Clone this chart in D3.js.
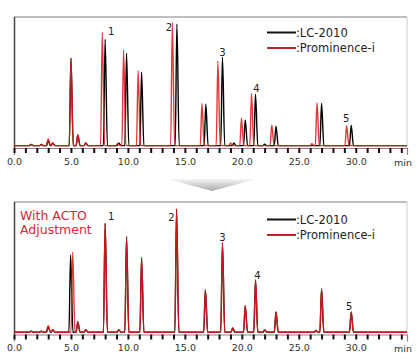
<!DOCTYPE html>
<html>
<head>
<meta charset="utf-8">
<script src="https://cdn.jsdelivr.net/npm/d3@7"></script>
<style>
  body { margin: 0; background: #fff; }
  svg text { font-family: "DejaVu Sans", sans-serif; }
</style>
</head>
<body>
<div id="vizcontainer"></div>
<script>
const width = 419,
  height = 360;

// peak apex times (min) and heights (arbitrary units)
const lcTimesTop = [1.5, 2.4, 3.0, 3.4, 5.0, 5.6, 6.3, 8.0, 9.2, 9.88, 11.2, 14.3, 16.84, 18.3, 19.3, 20.3, 21.2, 22.0, 23.0, 27.0, 29.6];
const lcHeightsTop = [0.8, 0.8, 4, 2, 67, 8, 2, 81.8, 2, 71, 56.4, 93.5, 31.8, 68, 2, 19.7, 39.5, 1, 15, 32.5, 15.6];

const promTimesTop = [1.5, 2.4, 3.0, 3.4, 5.0, 5.6, 6.3, 7.75, 9.1, 9.62, 10.9, 13.9, 16.5, 17.9, 19.0, 19.97, 20.85, 22.63, 26.15, 26.6, 29.2];
const promHeightsTop = [0.8, 0.8, 5.1, 2, 67.6, 8.2, 2, 87.2, 1.5, 73.5, 57.6, 94.8, 32.5, 65, 2, 21, 40.2, 15.8, 1.5, 33, 15.3];

const lcTimesBot = [1.5, 2.4, 3.0, 3.4, 4.97, 5.6, 6.3, 8.0, 9.2, 9.88, 11.2, 14.27, 16.8, 18.3, 19.2, 20.3, 21.2, 22.0, 23.0, 26.5, 27.0, 29.6];
const lcHeightsBot = [0.8, 0.8, 4.5, 2, 59.5, 8, 2, 83.8, 2, 73.5, 57.4, 94.8, 32.5, 69, 3.3, 20.5, 40.2, 1.8, 15.6, 1.5, 33.3, 15.6];

const promTimesBot = [1.5, 2.4, 3.0, 3.4, 5.15, 5.6, 6.3, 8.0, 9.2, 9.88, 11.2, 14.27, 16.8, 18.3, 19.2, 20.3, 21.2, 22.0, 23.0, 26.5, 27.0, 29.6];
const promHeightsBot = [0.8, 0.8, 5, 2, 61.8, 8.2, 2, 83.8, 2, 73.5, 57.4, 94.8, 32.5, 68.5, 3.3, 20.5, 40.2, 1.8, 15.6, 1.5, 33.3, 15.6];

const seriesNames = [':LC-2010', ':Prominence-i'];
const peakNames = ['1', '2', '3', '4', '5'];
const peakTimes = [8.0, 14.3, 18.3, 21.2, 29.6];
const peakTimesBot = [8.0, 14.27, 18.3, 21.2, 29.6];
const tickValues = d3.range(0, 35, 1);

const black = '#000',
  red = '#e01b1b';

const viz = d3.select('#vizcontainer')
  .append('svg')
  .attr('width', width)
  .attr('height', height);

const x = d3.scaleLinear().domain([0, 34.5]).range([14, 407]);

function peakPoints(times, heights) {
  let pts = [[0, 0]];
  times.forEach((t, i) => {
    pts.push([t - 0.15, 0], [t, heights[i]], [t + 0.2, 0]);
  });
  pts.push([34.5, 0]);
  return pts;
}

// gradient for the arrow between panels
const defs = viz.append('defs');
const grad = defs.append('linearGradient')
  .attr('id', 'arrowgrad')
  .attr('x1', 0).attr('y1', 0).attr('x2', 0).attr('y2', 1);
grad.append('stop').attr('offset', '0%').attr('stop-color', '#f6f6f6');
grad.append('stop').attr('offset', '100%').attr('stop-color', '#a9a9a9');

function panel(cfg) {
  const y = d3.scaleLinear().domain([0, 100]).range([cfg.base, cfg.base - 130]);
  const g = viz.append('g');

  // frame
  g.append('line').attr('x1', 14).attr('x2', 407).attr('y1', cfg.top).attr('y2', cfg.top)
    .attr('stroke', '#aaa').attr('stroke-width', 1.5);
  g.append('line').attr('x1', 407).attr('x2', 407).attr('y1', cfg.top).attr('y2', cfg.axisY)
    .attr('stroke', '#ccc');
  g.append('line').attr('x1', 14.5).attr('x2', 14.5).attr('y1', cfg.top).attr('y2', cfg.axisY)
    .attr('stroke', '#444').attr('stroke-width', 1.5);

  // axis
  const ax = g.append('g')
    .attr('transform', `translate(0,${cfg.axisY})`)
    .call(d3.axisBottom(x)
      .tickValues(tickValues)
      .tickSize(5)
      .tickSizeOuter(7)
      .tickPadding(5)
      .tickFormat(d => d % 5 === 0 ? d3.format('.1f')(d) : ''));
  ax.select('.domain').attr('stroke', '#888').attr('stroke-width', 1.2);
  ax.selectAll('.tick line').attr('stroke', '#111').attr('stroke-width', 2);
  ax.selectAll('.tick text').attr('font-size', 9.5).attr('fill', '#333')
    .attr('font-family', '"DejaVu Sans", sans-serif');
  g.append('text').attr('x', 403).attr('y', cfg.axisY + 17.5)
    .attr('text-anchor', 'middle').attr('font-size', 9.5).attr('fill', '#333').text('min');

  const line = d3.line()
    .x(d => x(d[0]))
    .y(d => y(d[1]))
    .curve(d3.curveMonotoneX);

  g.append('path')
    .attr('d', line(peakPoints(cfg.lcTimes, cfg.lcHeights)))
    .attr('fill', 'none').attr('stroke', black).attr('stroke-width', 1.4);
  g.append('path')
    .attr('d', line(peakPoints(cfg.promTimes, cfg.promHeights)))
    .attr('fill', 'none').attr('stroke', red).attr('stroke-width', 1.4)
    .attr('stroke-opacity', 0.88);

  // peak numbers
  g.selectAll('.pk')
    .data(peakNames)
    .join('text')
    .attr('x', (d, i) => x(cfg.pkTimes[i]) + cfg.pkOff[i][0])
    .attr('y', (d, i) => y(cfg.lcHeights[cfg.lcTimes.indexOf(cfg.pkTimes[i])]) + cfg.pkOff[i][1])
    .attr('text-anchor', 'middle')
    .attr('dominant-baseline', 'central')
    .attr('font-size', 10)
    .attr('fill', '#222')
    .text(d => d);

  // legend
  const leg = g.append('g');
  seriesNames.forEach((s, i) => {
    const ly = cfg.legY + i * 15.5;
    leg.append('line').attr('x1', 267).attr('x2', 296).attr('y1', ly).attr('y2', ly)
      .attr('stroke', i ? '#b3282a' : '#111').attr('stroke-width', 2);
    leg.append('text').attr('x', 296).attr('y', ly).attr('dominant-baseline', 'central')
      .attr('font-size', 11.5).attr('fill', '#222').text(s);
  });
  return g;
}

panel({
  top: 17, axisY: 148, base: 145.6, legY: 32.5,
  lcTimes: lcTimesTop, lcHeights: lcHeightsTop,
  promTimes: promTimesTop, promHeights: promHeightsTop,
  pkTimes: peakTimes,
  pkOff: [[6, -8], [-8, 3], [0, -5], [1, -6], [-5, -7]]
});

const bot = panel({
  top: 202, axisY: 334.5, base: 332.3, legY: 219.5,
  lcTimes: lcTimesBot, lcHeights: lcHeightsBot,
  promTimes: promTimesBot, promHeights: promHeightsBot,
  pkTimes: peakTimesBot,
  pkOff: [[6, -7], [-5, 8], [0, -5], [2, -5], [-2, -6]]
});

bot.append('text').attr('x', 20).attr('y', 220).attr('font-size', 12.5)
  .attr('fill', '#d8283c').text('With ACTO');
bot.append('text').attr('x', 20).attr('y', 234).attr('font-size', 12.5)
  .attr('fill', '#d8283c').text('Adjustment');

// arrow between the two panels
viz.append('path')
  .attr('d', 'M168,179 L256,179 L212,191 Z')
  .attr('fill', 'url(#arrowgrad)');
</script>
</body>
</html>
